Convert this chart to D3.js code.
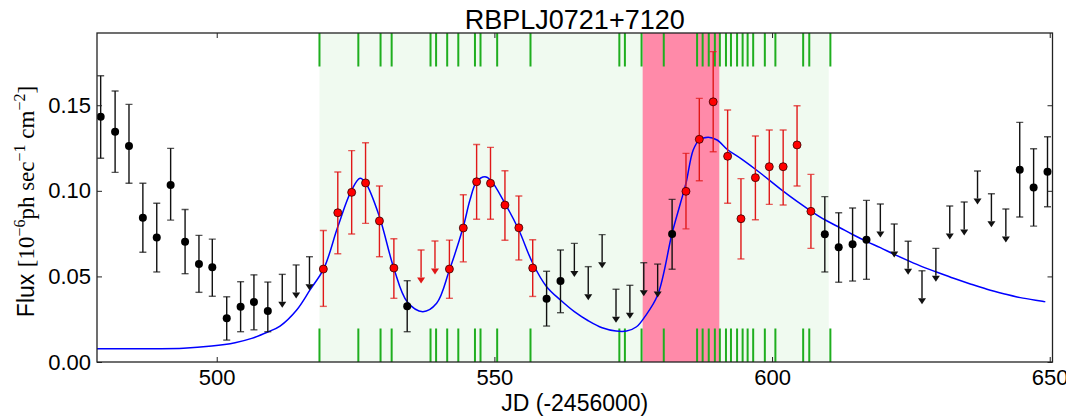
<!DOCTYPE html>
<html>
<head>
<meta charset="utf-8">
<script src="https://cdn.jsdelivr.net/npm/d3@7"></script>
<style>
  html, body { margin: 0; padding: 0; background: #ffffff; }
  svg { display: block; }
  text { font-family: "Liberation Sans", Arial, Helvetica, sans-serif; fill: #000; }
</style>
</head>
<body>
<svg id="chart" width="1066" height="417"></svg>
<script>
// ---- Light curve of RBPLJ0721+7120 ----
const title = "RBPLJ0721+7120";
const xLabel = "JD (-2456000)";

const xTicks = [500, 550, 600, 650];
const yTicks = [0.00, 0.05, 0.10, 0.15];

// Detections outside the flaring window (black)
const blackX   = [479.1, 481.7, 484.2, 486.7, 489.2, 491.7, 494.3, 496.8, 499.2, 501.8, 504.3, 506.7, 509.2,
                  534.3, 559.4, 561.9, 582.0, 609.5, 612.0, 614.5, 617.0, 644.6, 647.1, 649.6];
const blackY   = [0.1433, 0.1345, 0.1262, 0.0843, 0.0728, 0.1034, 0.0703, 0.0572, 0.0553, 0.0255, 0.0323, 0.0350, 0.0298,
                  0.0325, 0.0370, 0.0473, 0.0748, 0.0746, 0.0670, 0.0688, 0.0714, 0.1123, 0.1020, 0.1112];
const blackLo  = [0.1190, 0.1108, 0.1044, 0.0641, 0.0526, 0.0829, 0.0516, 0.0407, 0.0384, 0.0128, 0.0177, 0.0188, 0.0177,
                  0.0177, 0.0210, 0.0288, 0.0542, 0.0526, 0.0466, 0.0473, 0.0483, 0.0847, 0.0794, 0.0907];
const blackHi  = [0.1672, 0.1583, 0.1505, 0.1044, 0.0927, 0.1248, 0.0891, 0.0740, 0.0718, 0.0381, 0.0469, 0.0509, 0.0467,
                  0.0475, 0.0530, 0.0654, 0.0950, 0.0966, 0.0872, 0.0900, 0.0944, 0.1400, 0.1246, 0.1316];

// Detections used in the flare fit (red)
const redX  = [519.2, 521.8, 524.3, 526.8, 529.3, 531.9, 541.9, 544.4, 546.8, 549.3, 551.9, 554.4, 556.9,
               584.5, 586.9, 589.4, 592.0, 594.4, 597.0, 599.5, 602.0, 604.5, 607.0];
const redY  = [0.0543, 0.0872, 0.0991, 0.1046, 0.0824, 0.0549, 0.0543, 0.0783, 0.1053, 0.1044, 0.0917, 0.0784, 0.0549,
               0.0997, 0.1301, 0.1520, 0.1202, 0.0837, 0.1077, 0.1141, 0.1141, 0.1268, 0.0880];
const redLo = [0.0325, 0.0632, 0.0748, 0.0810, 0.0615, 0.0372, 0.0372, 0.0585, 0.0834, 0.0834, 0.0711, 0.0596, 0.0383,
               0.0778, 0.1059, 0.1228, 0.0927, 0.0602, 0.0831, 0.0921, 0.0917, 0.1028, 0.0664];
const redHi = [0.0768, 0.1110, 0.1235, 0.1281, 0.1028, 0.0720, 0.0712, 0.0977, 0.1271, 0.1254, 0.1117, 0.0970, 0.0714,
               0.1219, 0.1540, 0.1813, 0.1472, 0.1071, 0.1320, 0.1355, 0.1355, 0.1497, 0.1096];

// Upper limits
const ulBlackX = [511.8, 514.3, 516.7, 564.4, 566.9, 569.4, 571.9, 574.4, 576.9, 579.4,
                  619.5, 622.0, 624.5, 627.0, 629.5, 632.0, 634.6, 637.0, 639.5, 642.1];
const ulBlackY = [0.0512, 0.0567, 0.0615, 0.0693, 0.0557, 0.0744, 0.0425, 0.0448, 0.0580, 0.0572,
                  0.0923, 0.0806, 0.0705, 0.0533, 0.0664, 0.0911, 0.0935, 0.1116, 0.0983, 0.0894];
const ulRedX = [536.8, 539.3];
const ulRedY = [0.0654, 0.0707];

// Observation epochs (green markers)
const obsEpochs = [518.5, 525.5, 529.5, 531.5, 538.5, 539.5, 541.5, 543.5, 546.5, 547.5, 550.5, 556.5,
                   572.5, 573.5, 576.5, 580.5, 586.5, 587.5, 588.6, 589.7, 590.6, 591.7, 592.6, 593.7,
                   594.7, 595.6, 596.6, 598.7, 600.6, 605.6, 606.7, 610.5];

// Observing window and highlighted interval
const windowSpan = [518.5, 610.2];
const flareSpan = [576.7, 590.5];

// Fitted flare model, sampled
const fitX = [478.4, 488.0, 494.0, 499.1, 503.3, 506.3, 509.3, 511.4, 514.4, 516.8, 519.3, 521.8, 524.3,
              525.8, 526.8, 529.3, 531.9, 534.3, 537.1, 539.6, 541.9, 544.4, 545.6, 546.8, 548.3, 549.3, 551.9,
              554.4, 556.9, 559.4, 561.9, 564.4, 566.9, 569.4, 571.9, 573.8, 575.6, 577.1, 579.4, 582.0, 583.5,
              584.5, 585.8, 586.9, 588.5, 590.1, 592.0, 594.4, 597.0, 599.5, 602.0, 604.5, 607.0, 609.5, 612.3,
              614.5, 617.0, 619.5, 622.0, 624.5, 627.0, 629.5, 632.7, 635.7, 638.7, 641.7, 644.7, 649.2];
const fitY = [0.0078, 0.0078, 0.0080, 0.0093, 0.0113, 0.0138, 0.0177, 0.0210, 0.0304, 0.0421, 0.0547, 0.0790, 0.1005,
              0.1073, 0.1047, 0.0849, 0.0547, 0.0352, 0.0294, 0.0343, 0.0537, 0.0790, 0.0946, 0.1053, 0.1082, 0.1063, 0.0927,
              0.0771, 0.0577, 0.0440, 0.0362, 0.0294, 0.0241, 0.0200, 0.0181, 0.0181, 0.0206, 0.0265, 0.0391, 0.0752, 0.0927,
              0.1044, 0.1238, 0.1297, 0.1313, 0.1297, 0.1240, 0.1188, 0.1126, 0.1063, 0.0998, 0.0938, 0.0882, 0.0831, 0.0783,
              0.0745, 0.0705, 0.0668, 0.0629, 0.0592, 0.0557, 0.0527, 0.0489, 0.0456, 0.0425, 0.0399, 0.0376, 0.0352];

// ---- Layout ----
const svg = d3.select("#chart");
const plot = { left: 97, right: 1052.5, top: 33, bottom: 362 };

const x = d3.scaleLinear().domain([478.44, 650.5]).range([plot.left, plot.right]);
const y = d3.scaleLinear().domain([0, 0.1922]).range([plot.bottom, plot.top]);

const clipId = "plot-clip";
svg.append("defs").append("clipPath").attr("id", clipId)
  .append("rect")
  .attr("x", plot.left).attr("y", plot.top)
  .attr("width", plot.right - plot.left).attr("height", plot.bottom - plot.top);

const g = svg.append("g").attr("clip-path", `url(#${clipId})`);

// Shaded spans
g.append("rect")
  .attr("x", x(windowSpan[0])).attr("width", x(windowSpan[1]) - x(windowSpan[0]))
  .attr("y", plot.top).attr("height", plot.bottom - plot.top)
  .attr("fill", "#f0faf0");
g.append("rect")
  .attr("x", x(flareSpan[0])).attr("width", x(flareSpan[1]) - x(flareSpan[0]))
  .attr("y", plot.top).attr("height", plot.bottom - plot.top)
  .attr("fill", "#ff8aa9");

// Observation epoch markers along top and bottom edges
const epochLen = 33.5;
g.selectAll("line.ep-top").data(obsEpochs).join("line")
  .attr("x1", d => x(d)).attr("x2", d => x(d))
  .attr("y1", plot.top).attr("y2", plot.top + epochLen)
  .attr("stroke", "#1fae1f").attr("stroke-width", 2);
g.selectAll("line.ep-bot").data(obsEpochs).join("line")
  .attr("x1", d => x(d)).attr("x2", d => x(d))
  .attr("y1", plot.bottom - epochLen).attr("y2", plot.bottom)
  .attr("stroke", "#1fae1f").attr("stroke-width", 2);

// Fit curve
const fitData = fitX.map((d, i) => [d, fitY[i]]);
g.append("path")
  .datum(fitData)
  .attr("fill", "none")
  .attr("stroke", "#0000ff")
  .attr("stroke-width", 1.5)
  .attr("d", d3.line().x(d => x(d[0])).y(d => y(d[1])).curve(d3.curveCatmullRom.alpha(0.5)));

// Error bars with caps
const capHalf = 3.5;
function errorBars(xs, lo, hi, color) {
  const data = xs.map((d, i) => ({ x: d, lo: lo[i], hi: hi[i] }));
  const eg = g.append("g").attr("stroke", color).attr("stroke-width", 1.4);
  eg.selectAll("line.v").data(data).join("line")
    .attr("x1", d => x(d.x)).attr("x2", d => x(d.x))
    .attr("y1", d => y(d.lo)).attr("y2", d => y(d.hi));
  eg.selectAll("line.c1").data(data).join("line")
    .attr("x1", d => x(d.x) - capHalf).attr("x2", d => x(d.x) + capHalf)
    .attr("y1", d => y(d.lo)).attr("y2", d => y(d.lo)).attr("stroke-opacity", 0.7);
  eg.selectAll("line.c2").data(data).join("line")
    .attr("x1", d => x(d.x) - capHalf).attr("x2", d => x(d.x) + capHalf)
    .attr("y1", d => y(d.hi)).attr("y2", d => y(d.hi)).attr("stroke-opacity", 0.7);
}

// Upper-limit arrows: capped line pointing downwards
const arrowLen = 33.5, headW = 4, headH = 6;
function upperLimits(xs, ys, color) {
  const data = xs.map((d, i) => ({ x: d, v: ys[i] }));
  const ag = g.append("g");
  ag.selectAll("line.stem").data(data).join("line")
    .attr("x1", d => x(d.x)).attr("x2", d => x(d.x))
    .attr("y1", d => y(d.v)).attr("y2", d => y(d.v) + arrowLen - headH)
    .attr("stroke", color).attr("stroke-width", 1.4);
  ag.selectAll("line.cap").data(data).join("line")
    .attr("x1", d => x(d.x) - capHalf).attr("x2", d => x(d.x) + capHalf)
    .attr("y1", d => y(d.v)).attr("y2", d => y(d.v))
    .attr("stroke", color).attr("stroke-width", 1.4).attr("stroke-opacity", 0.7);
  ag.selectAll("path.head").data(data).join("path")
    .attr("d", d => {
      const cx = x(d.x), tip = y(d.v) + arrowLen;
      return `M${cx - headW},${tip - headH}L${cx + headW},${tip - headH}L${cx},${tip}Z`;
    })
    .attr("fill", color);
}

upperLimits(ulBlackX, ulBlackY, "#111111");
upperLimits(ulRedX, ulRedY, "#e01818");
errorBars(blackX, blackLo, blackHi, "#111111");
errorBars(redX, redLo, redHi, "#e01818");

// Markers
g.selectAll("circle.blk").data(blackX.map((d, i) => [d, blackY[i]])).join("circle")
  .attr("cx", d => x(d[0])).attr("cy", d => y(d[1])).attr("r", 4)
  .attr("fill", "#000000");
g.selectAll("circle.red").data(redX.map((d, i) => [d, redY[i]])).join("circle")
  .attr("cx", d => x(d[0])).attr("cy", d => y(d[1])).attr("r", 4)
  .attr("fill", "#ff0000").attr("stroke", "#330000").attr("stroke-width", 0.8);

// ---- Axes ----
const tickFont = 22;
const fmtY = d3.format(".2f");

const axB = svg.append("g").attr("transform", `translate(0,${plot.bottom})`)
  .call(d3.axisBottom(x).tickValues(xTicks).tickFormat(d3.format("d")).tickSize(-5).tickPadding(7));
const axT = svg.append("g").attr("transform", `translate(0,${plot.top})`)
  .call(d3.axisTop(x).tickValues(xTicks).tickSize(-5).tickFormat(""));
const axL = svg.append("g").attr("transform", `translate(${plot.left},0)`)
  .call(d3.axisLeft(y).tickValues(yTicks).tickFormat(fmtY).tickSize(-5).tickPadding(6));
const axR = svg.append("g").attr("transform", `translate(${plot.right},0)`)
  .call(d3.axisRight(y).tickValues(yTicks).tickSize(-5).tickFormat(""));

[axB, axT, axL, axR].forEach(a => {
  a.select(".domain").remove();
  a.selectAll(".tick line").attr("stroke", "#222").attr("stroke-width", 1);
  a.selectAll(".tick text")
    .attr("font-family", "'Liberation Sans', Arial, sans-serif")
    .attr("font-size", tickFont).attr("fill", "#000");
});

// Frame
svg.append("rect")
  .attr("x", plot.left).attr("y", plot.top)
  .attr("width", plot.right - plot.left).attr("height", plot.bottom - plot.top)
  .attr("fill", "none").attr("stroke", "#222").attr("stroke-width", 1.3);

// Title
svg.append("text")
  .attr("x", (plot.left + plot.right) / 2).attr("y", 28.5)
  .attr("text-anchor", "middle")
  .attr("font-size", 27)
  .text(title);

// X label
svg.append("text")
  .attr("x", (plot.left + plot.right) / 2).attr("y", 411)
  .attr("text-anchor", "middle")
  .attr("font-size", 23)
  .text(xLabel);

// Y label with math-style units
const yl = svg.append("text")
  .attr("transform", `translate(34,${(plot.top + plot.bottom) / 2 + 4}) rotate(-90)`)
  .attr("text-anchor", "middle")
  .attr("font-size", 23);
yl.append("tspan").text("Flux ");
const serif = "'Liberation Serif', 'DejaVu Serif', serif";
const parts = [
  ["[10", 0, 23], ["\u22126", -9, 16], ["ph sec", 9, 23], ["\u22121", -9, 16],
  [" cm", 9, 23], ["\u22122", -9, 16], ["]", 9, 23]
];
parts.forEach(([t, dy, fs]) => {
  yl.append("tspan")
    .attr("font-family", serif)
    .attr("font-size", fs)
    .attr("dy", dy)
    .text(t);
});
</script>
</body>
</html>
